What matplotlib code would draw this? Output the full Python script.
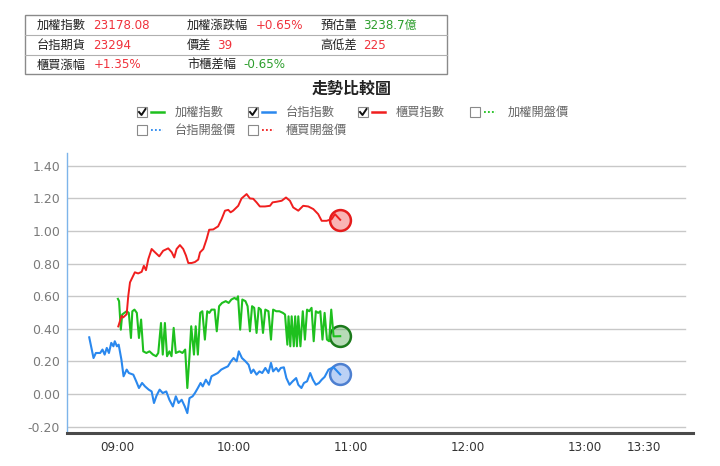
import matplotlib
matplotlib.use("Agg")
import matplotlib.pyplot as plt
from matplotlib.patches import Rectangle
from matplotlib.lines import Line2D

plt.rcParams['font.family'] = ['DejaVu Sans', 'Noto Sans CJK TC']

# ---------------- data (minutes after 09:00, % change) ----------------
taiex_t = [0.5, 1.1, 2.0, 2.7, 3.8, 5.0, 6.1, 7.2, 7.9, 9.0, 10.2, 11.3, 12.4, 13.5, 15.1, 16.7,
           18.5, 20.1, 21.2, 22.6, 23.5, 24.6, 25.7, 26.9, 28.0, 29.1, 30.2, 32.1, 33.6, 35.0,
           36.1, 37.2, 38.1, 39.5, 40.4, 41.5, 42.7, 43.8, 45.1, 46.3, 47.4, 48.5, 50.1, 51.2,
           52.4, 53.9, 55.8, 57.3, 58.7, 60.3, 61.4, 62.1, 63.2, 64.3, 65.9, 67.0, 68.2, 69.3,
           70.4, 71.6, 72.7, 73.8, 74.9, 76.1, 77.7, 79.0, 80.1, 81.7, 83.3, 85.1, 86.2, 87.4,
           88.0, 88.9, 89.6, 90.7, 91.4, 92.3, 93.0, 94.1, 95.3, 96.4, 97.5, 98.6, 99.8, 100.9,
           102.0, 103.2, 104.3, 105.4, 106.5, 107.7, 108.8, 109.9, 111.1, 114.5]
taiex_v = [0.584, 0.570, 0.395, 0.488, 0.498, 0.508, 0.498, 0.344, 0.508, 0.518, 0.498, 0.344,
           0.457, 0.262, 0.252, 0.262, 0.242, 0.232, 0.252, 0.436, 0.242, 0.436, 0.232, 0.262,
           0.232, 0.406, 0.252, 0.262, 0.252, 0.273, 0.037, 0.232, 0.416, 0.242, 0.416, 0.242,
           0.498, 0.508, 0.334, 0.508, 0.498, 0.518, 0.518, 0.385, 0.539, 0.559, 0.570, 0.559,
           0.580, 0.590, 0.580, 0.600, 0.395, 0.580, 0.570, 0.539, 0.385, 0.539, 0.529, 0.375,
           0.529, 0.518, 0.375, 0.518, 0.508, 0.334, 0.518, 0.508, 0.508, 0.498, 0.488, 0.303,
           0.477, 0.293, 0.477, 0.293, 0.477, 0.293, 0.477, 0.293, 0.508, 0.334, 0.518, 0.508,
           0.529, 0.324, 0.508, 0.498, 0.508, 0.334, 0.498, 0.334, 0.324, 0.518, 0.354, 0.355]

futures_t = [-14.2, -12.0, -10.8, -8.6, -7.4, -6.3, -5.2, -4.1, -2.9, -1.8, -1.1, 0.0, 0.9, 2.3,
             3.4, 5.0, 6.1, 8.4, 9.9, 11.3, 12.9, 14.4, 16.3, 17.8, 19.0, 20.3, 21.9, 23.5, 25.3,
             26.9, 28.7, 30.2, 31.6, 33.2, 34.8, 36.1, 37.2, 38.8, 40.0, 41.5, 42.9, 44.0, 45.6,
             47.2, 48.5, 50.1, 51.7, 53.5, 55.1, 56.9, 58.5, 59.8, 61.4, 62.5, 64.1, 65.9, 67.5,
             68.8, 70.0, 71.6, 73.1, 74.5, 76.1, 77.7, 79.0, 80.1, 81.7, 82.8, 84.0, 85.6, 86.9,
             88.5, 90.1, 91.9, 93.0, 94.6, 95.9, 97.5, 99.1, 100.5, 102.0, 103.6, 105.0, 106.5,
             108.5, 111.0, 114.5]
futures_v = [0.348, 0.221, 0.252, 0.252, 0.273, 0.242, 0.283, 0.252, 0.314, 0.293, 0.324, 0.293,
             0.303, 0.211, 0.109, 0.150, 0.129, 0.119, 0.078, 0.037, 0.068, 0.047, 0.027, 0.016,
             -0.055, -0.010, 0.027, 0.006, 0.016, -0.035, -0.076, -0.014, -0.055, -0.035, -0.076,
             -0.117, -0.025, -0.014, 0.006, 0.037, 0.068, 0.047, 0.088, 0.057, 0.109, 0.119,
             0.129, 0.150, 0.160, 0.170, 0.201, 0.221, 0.201, 0.262, 0.221, 0.201, 0.180, 0.129,
             0.150, 0.119, 0.139, 0.129, 0.160, 0.129, 0.191, 0.139, 0.160, 0.139, 0.160, 0.164,
             0.098, 0.057, 0.078, 0.098, 0.057, 0.037, 0.068, 0.078, 0.129, 0.088, 0.057, 0.068,
             0.088, 0.105, 0.150, 0.165, 0.120]

otc_t = [0.7, 2.4, 3.2, 4.1, 5.0, 5.8, 6.7, 7.5, 9.2, 10.9, 12.7, 13.8, 14.9, 16.1, 17.8, 19.5,
         21.7, 23.7, 26.3, 28.1, 29.4, 30.6, 32.3, 34.0, 35.4, 36.6, 38.3, 40.0, 41.7, 42.6, 44.3,
         46.0, 47.3, 49.4, 51.9, 53.7, 55.4, 57.1, 58.3, 59.6, 62.2, 63.9, 66.5, 68.2, 69.9, 71.6,
         73.3, 75.9, 78.5, 79.8, 81.9, 84.5, 86.7, 88.7, 90.4, 93.0, 95.5, 98.1, 100.7, 103.2,
         105.0, 107.5, 110.1, 111.8, 114.5]
otc_v = [0.415, 0.48, 0.47, 0.48, 0.49, 0.60, 0.685, 0.705, 0.747, 0.74, 0.75, 0.787, 0.76, 0.828,
         0.89, 0.87, 0.845, 0.879, 0.894, 0.87, 0.838, 0.89, 0.914, 0.89, 0.85, 0.804, 0.804, 0.81,
         0.825, 0.869, 0.89, 0.951, 1.008, 1.01, 1.029, 1.074, 1.125, 1.13, 1.115, 1.125, 1.155,
         1.20, 1.227, 1.20, 1.198, 1.176, 1.151, 1.151, 1.155, 1.176, 1.18, 1.186, 1.206, 1.186,
         1.145, 1.125, 1.155, 1.151, 1.135, 1.104, 1.063, 1.063, 1.073, 1.104, 1.069]

xtick_pos = [0, 60, 120, 180, 240, 270]
xtick_labels = ['09:00', '10:00', '11:00', '12:00', '13:00', '13:30']
ytick_vals = [-0.2, 0.0, 0.2, 0.4, 0.6, 0.8, 1.0, 1.2, 1.4]

info_rows = [
    [('加權指數', '23178.08', 'red'), ('加權漲跌幅', '+0.65%', 'red'), ('預估量', '3238.7億', 'green')],
    [('台指期貨', '23294', 'red'), ('價差', '39', 'red'), ('高低差', '225', 'red')],
    [('櫃買漲幅', '+1.35%', 'red'), ('市櫃差幅', '-0.65%', 'green')],
]

legend_items = ['加權指數', '台指指數', '櫃買指數', '加權開盤價', '台指開盤價', '櫃買開盤價']

# ---------------- style ----------------
W, H = 720, 466
C_GREEN = '#1ec01e'
C_BLUE = '#2a88ee'
C_RED = '#f01e1e'
TXT_RED = '#f0323c'
TXT_GREEN = '#2d9e2d'

fig = plt.figure(figsize=(W / 100, H / 100), dpi=100)


def fx(x):
    return x / W


def fy(y):
    return 1 - y / H


# ---------------- info table ----------------
box_l, box_r, box_t, box_b = 25, 447, 15, 74
fig.add_artist(Rectangle((fx(box_l), fy(box_b)), fx(box_r - box_l), (box_b - box_t) / H,
                         transform=fig.transFigure, fill=False, edgecolor='#8a8a8a', lw=1.0))
for ysep in [35, 54.5]:
    fig.add_artist(Line2D([fx(box_l), fx(box_r)], [fy(ysep), fy(ysep)],
                          transform=fig.transFigure, color='#b0b0b0', lw=0.8))
row_y = [25.5, 45.5, 65]
label_x = [37, 187, 320]
value_x = [[93, 256, 363], [93, 217, 363], [94, 243]]
for r, row in enumerate(info_rows):
    for c, (lab, val, col) in enumerate(row):
        fig.text(fx(label_x[c]), fy(row_y[r]), lab, fontsize=8.8, color='#222222',
                 ha='left', va='center', family=['Noto Sans CJK TC', 'DejaVu Sans'])
        fig.text(fx(value_x[r][c]), fy(row_y[r]), val, fontsize=8.6,
                 color=TXT_RED if col == 'red' else TXT_GREEN, ha='left', va='center')

# ---------------- title ----------------
fig.text(fx(352), fy(89), '走勢比較圖', fontsize=11.5, fontweight='bold', color='#222222',
         ha='center', va='center', family=['Noto Sans CJK TC', 'DejaVu Sans'])

# ---------------- custom legend ----------------
leg_layout = [
    (137, 112, True, C_GREEN, '-'),
    (248, 112, True, C_BLUE, '-'),
    (358, 112, True, C_RED, '-'),
    (470, 112, False, C_GREEN, ':'),
    (137, 130, False, C_BLUE, ':'),
    (248, 130, False, C_RED, ':'),
]
for (x0, yc, checked, col, ls), name in zip(leg_layout, legend_items):
    fig.add_artist(Rectangle((fx(x0), fy(yc + 5)), 10 / W, 10 / H, transform=fig.transFigure,
                             facecolor='white', edgecolor='#8a8a8a', lw=0.8))
    if checked:
        fig.add_artist(Line2D([fx(x0 + 2), fx(x0 + 4.5), fx(x0 + 8.5)],
                              [fy(yc), fy(yc + 3), fy(yc - 3)],
                              transform=fig.transFigure, color='#111111', lw=1.4))
    if ls == '-':
        fig.add_artist(Line2D([fx(x0 + 14), fx(x0 + 27)], [fy(yc), fy(yc)],
                              transform=fig.transFigure, color=col, lw=1.8))
    else:
        fig.add_artist(Line2D([fx(x0 + 14), fx(x0 + 26)], [fy(yc), fy(yc)],
                              transform=fig.transFigure, color=col, lw=1.3,
                              linestyle=(0, (1, 1.2))))
    fig.text(fx(x0 + 38), fy(yc), name, fontsize=8.8, color='#666666', ha='left', va='center',
             family=['Noto Sans CJK TC', 'DejaVu Sans'])

# ---------------- main axes ----------------
ax_l, ax_r, ax_t, ax_b = 67, 693, 153, 433
ax = fig.add_axes([fx(ax_l), fy(ax_b), (ax_r - ax_l) / W, (ax_b - ax_t) / H])
ax.set_xlim(-25.6, 295.4)
ax.set_ylim(-0.239, 1.479)

for v in ytick_vals:
    ax.axhline(v, xmin=0, xmax=0.987, color='#c8c8c8', lw=1.0, zorder=0)

# end markers (translucent, line visible through them)
ax.plot(futures_t[-1], futures_v[-1], 'o', ms=15, mfc=(0.35, 0.55, 0.9, 0.4),
        mec='#4d7fd0', mew=1.8, zorder=2)
ax.plot(taiex_t[-1], taiex_v[-1], 'o', ms=15, mfc=(0.3, 0.65, 0.3, 0.4),
        mec='#1b7a1b', mew=1.8, zorder=2)
ax.plot(otc_t[-1], otc_v[-1], 'o', ms=15, mfc=(0.95, 0.35, 0.35, 0.45),
        mec='#e51c1c', mew=1.8, zorder=2)

ax.plot(futures_t, futures_v, color=C_BLUE, lw=1.5, zorder=3)
ax.plot(taiex_t, taiex_v, color=C_GREEN, lw=1.5, zorder=4)
ax.plot(otc_t, otc_v, color=C_RED, lw=1.4, zorder=5)

ax.set_yticks(ytick_vals)
ax.set_yticklabels([f'{v:.2f}' for v in ytick_vals])
ax.set_xticks(xtick_pos)
ax.set_xticklabels(xtick_labels)
ax.tick_params(axis='y', length=0, pad=5, labelsize=9, labelcolor='#7a7a7a')
ax.tick_params(axis='x', length=0, pad=6, labelsize=8.6, labelcolor='#333333')

for s in ['top', 'right']:
    ax.spines[s].set_visible(False)
ax.spines['left'].set_color('#7db4ea')
ax.spines['left'].set_linewidth(1.0)
ax.spines['bottom'].set_color('#4a4a4a')
ax.spines['bottom'].set_linewidth(2.2)
ax.patch.set_alpha(0)

fig.savefig('out.png', dpi=100)
